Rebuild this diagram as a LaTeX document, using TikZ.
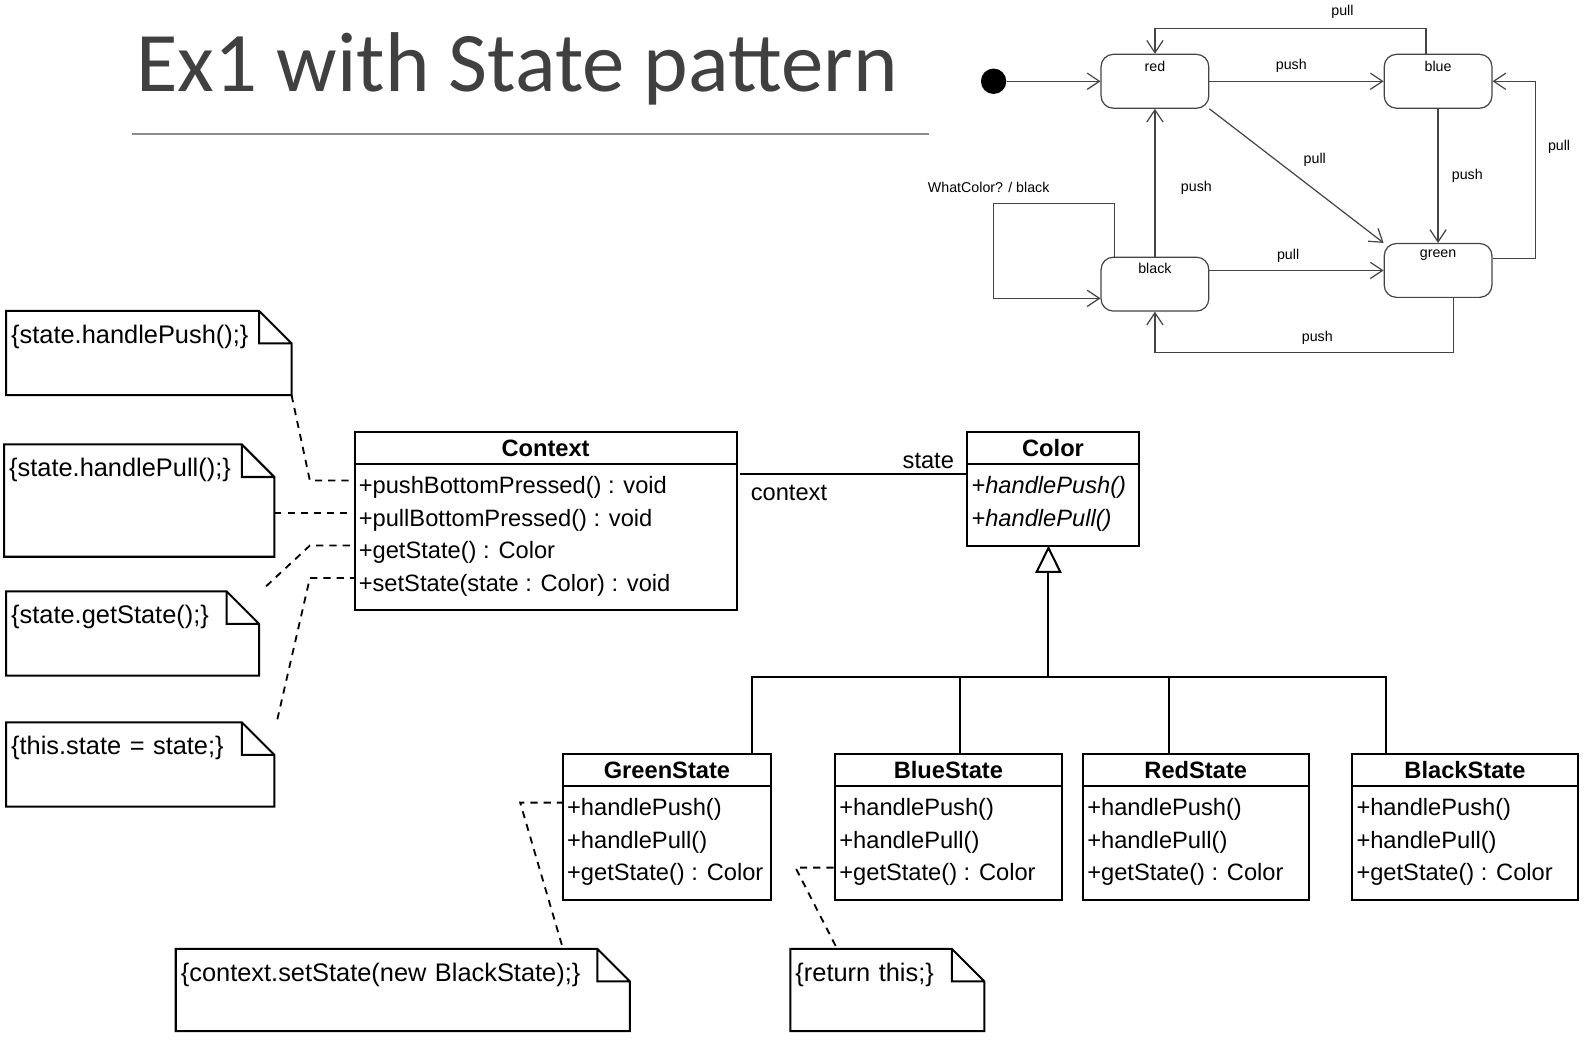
\documentclass[tikz,border=0pt]{standalone}
\usepackage{fontspec}
\setmainfont{Liberation Sans}
\newfontfamily\titlefont{Carlito}
\usetikzlibrary{positioning,arrows.meta}

\definecolor{titlegray}{HTML}{404040}
\definecolor{rulegray}{HTML}{8C8C8C}
\definecolor{stateline}{HTML}{444444}

\newcommand{\umltext}{\fontsize{23.3}{28}\selectfont}
\newcommand{\notetext}{\fontsize{25}{30}\selectfont}
\newcommand{\statetext}{\fontsize{14}{17}\selectfont}

\begin{document}
\begin{tikzpicture}[x=1pt,y=-1pt,
  classbox/.style={draw,line width=2pt,anchor=north west,inner sep=0pt,outer sep=0pt},
  classhead/.style={draw,line width=2pt,minimum height=32pt,inner sep=0pt,outer sep=0pt,anchor=north,font=\umltext\bfseries},
  member/.style={anchor=west,inner xsep=2pt,inner ysep=0pt,text height=26pt,text depth=0pt,font=\umltext},
  note/.style={anchor=north west,outer sep=0pt,inner xsep=5pt,inner ysep=0pt,text height=32pt,align=left,font=\notetext},
  noteframe/.style={draw,line width=2pt,line join=miter},
  noteline/.style={draw,line width=1.8pt,dash pattern=on 7pt off 6pt},
  assoc/.style={draw,line width=2pt},
  isa/.style={draw,line width=2pt,-{Triangle[open,length=27pt,width=26pt]}},
  role/.style={inner sep=0pt,font=\umltext},
  statebox/.style={draw=stateline,line width=1.2pt,rounded corners=12pt,minimum width=106pt,minimum height=53pt,inner sep=0pt},
  statename/.style={inner sep=0pt,font=\statetext},
  startdot/.style={circle,fill=black,minimum size=25pt,inner sep=0pt},
  trans/.style={draw=stateline,line width=1.2pt,-{Straight Barb[length=12pt,width=16pt]}},
  translabel/.style={inner sep=0pt,font=\statetext}]

\useasboundingbox (0,0) rectangle (1568,1043.4);

% title
\node[anchor=base west,inner sep=0pt,font=\titlefont\fontsize{83.5}{92}\selectfont,text=titlegray] (title) at (134,90.5) {Ex1 with State pattern};
\draw[rulegray,line width=2pt] (130,131.5) -- (914,131.5);

% state machine
\node[startdot] (init) at (978,80) {};
\node[statebox] (sred) at (1136.8,80) {};
\node[statebox,right=171.5pt of sred] (sblue) {};
\node[statebox,below=145.5pt of sred] (sblack) {};
\node[statebox,below=132pt of sblue] (sgreen) {};

\node[statename] (redname) at ([yshift=-12pt]sred.north) {red};
\node[statename] (bluename) at ([yshift=-12pt]sblue.north) {blue};
\node[statename] (blackname) at ([yshift=-12pt]sblack.north) {black};
\node[statename] (greenname) at ([yshift=-12pt]sgreen.north) {green};

\draw[trans] (init) -- (sred);
\draw[trans] (sred) -- (sblue) node[translabel,pos=0.47,above=8pt] (l1) {push};
\draw[trans] ([xshift=-12pt]sblue.north) -- ++(0,-25) -| (sred.north) node[translabel,pos=0.154,above=9pt] (l2) {pull};
\draw[trans] (sred.south east) -- (sgreen.north west) node[translabel,midway,xshift=18pt,yshift=16pt] (l3) {pull};
\draw[trans] (sblue.south) -- (sgreen.north) node[translabel,midway,right=13pt] (l4) {push};
\draw[trans] ([yshift=12pt]sgreen.east) -- ++(42,0) |- (sblue.east) node[translabel,pos=0.315,right=12pt] (l5) {pull};
\draw[trans] (sblack.north) -- (sred.south) node[translabel,pos=0.465,right=25pt] (l6) {push};
\draw[trans] (sblack.east |- sgreen.west) -- (sgreen.west) node[translabel,pos=0.452,above=7.5pt] (l7) {pull};
\draw[trans] ([xshift=15pt]sgreen.south) -- ++(0,54) -| (sblack.south) node[translabel,pos=0.228,above=8pt] (l8) {push};
\draw[trans] ([xshift=14pt]sblack.north west) |- ++(-119,-52) node[translabel,pos=1,above=10pt,xshift=-5pt] (l9) {WhatColor? / black}
  |- ([yshift=-14pt]sblack.west);

% Context
\node[classbox,minimum width=376pt,minimum height=175pt] (context) at (349,425) {};
\node[classhead,minimum width=376pt] (ctxhead) at (context.north) {Context};
\node[member] (ctxpush) at ([xshift=2pt,yshift=-16pt]ctxhead.south west) {+pushBottomPressed() : void};
\node[member,below=32pt of ctxpush.west,anchor=west] (ctxpull) {+pullBottomPressed() : void};
\node[member,below=32pt of ctxpull.west,anchor=west] (ctxget) {+getState() : Color};
\node[member,below=32pt of ctxget.west,anchor=west] (ctxset) {+setState(state : Color) : void};

% Color
\node[classbox,minimum width=169pt,minimum height=112pt] (color) at (952,425) {};
\node[classhead,minimum width=169pt] (colhead) at (color.north) {Color};
\node[member,font=\umltext\itshape] (colpush) at ([xshift=2pt,yshift=-16pt]colhead.south west) {+handlePush()};
\node[member,font=\umltext\itshape,below=32pt of colpush.west,anchor=west] (colpull) {+handlePull()};

\draw[assoc] ([xshift=3pt,yshift=-42pt]context.north east) -- ([yshift=-42pt]color.north west)
  node[role,pos=0,anchor=west,xshift=10pt,yshift=-18pt] (ctxrole) {context}
  node[role,pos=1,anchor=east,xshift=-12pt,yshift=13pt] (staterole) {state};

% concrete states
\node[classbox,minimum width=205pt,minimum height=144pt] (greenstate) at (554,742) {};
\node[classhead,minimum width=205pt] (greenhead) at (greenstate.north) {GreenState};
\node[member] (greenpush) at ([xshift=2pt,yshift=-16pt]greenhead.south west) {+handlePush()};
\node[member,below=32pt of greenpush.west,anchor=west] (greenpull) {+handlePull()};
\node[member,below=32pt of greenpull.west,anchor=west] (greenget) {+getState() : Color};

\node[classbox,minimum width=223pt,minimum height=144pt] (bluestate) at (822,742) {};
\node[classhead,minimum width=223pt] (bluehead) at (bluestate.north) {BlueState};
\node[member] (bluepush) at ([xshift=2pt,yshift=-16pt]bluehead.south west) {+handlePush()};
\node[member,below=32pt of bluepush.west,anchor=west] (bluepull) {+handlePull()};
\node[member,below=32pt of bluepull.west,anchor=west] (blueget) {+getState() : Color};

\node[classbox,minimum width=222pt,minimum height=144pt] (redstate) at (1066,742) {};
\node[classhead,minimum width=222pt] (redhead) at (redstate.north) {RedState};
\node[member] (redpush) at ([xshift=2pt,yshift=-16pt]redhead.south west) {+handlePush()};
\node[member,below=32pt of redpush.west,anchor=west] (redpull) {+handlePull()};
\node[member,below=32pt of redpull.west,anchor=west] (redget) {+getState() : Color};

\node[classbox,minimum width=222pt,minimum height=144pt] (blackstate) at (1331,742) {};
\node[classhead,minimum width=222pt] (blackhead) at (blackstate.north) {BlackState};
\node[member] (blackpush) at ([xshift=2pt,yshift=-16pt]blackhead.south west) {+handlePush()};
\node[member,below=32pt of blackpush.west,anchor=west] (blackpull) {+handlePull()};
\node[member,below=32pt of blackpull.west,anchor=west] (blackget) {+getState() : Color};

\coordinate (bus) at (1032,666);
\draw[assoc] ([xshift=186pt]greenstate.north west) |- (bus);
\draw[assoc] ([xshift=123pt]bluestate.north west) |- (bus);
\draw[assoc] ([xshift=85pt]redstate.north west) |- (bus);
\draw[assoc] ([xshift=33pt]blackstate.north west) |- (bus);
\draw[isa] (bus) -- (bus |- color.south);

% notes
\node[note,text width=271pt,text depth=51pt] (pushnote) at (6,306) {\{state.handlePush();\}};
\node[note,text width=256pt,text depth=78.5pt] (pullnote) at (4,437.5) {\{state.handlePull();\}};
\node[note,text width=239pt,text depth=51pt] (getnote) at (6,582) {\{state.getState();\}};
\node[note,text width=254pt,text depth=51pt] (setnote) at (6,711) {\{this.state = state;\}};
\node[note,text width=437pt,text depth=49pt] (blacknote) at (173,934) {\{context.setState(new BlackState);\}};
\node[note,text width=181pt,text depth=49pt] (thisnote) at (778,934) {\{return this;\}};

\foreach \n in {pushnote,pullnote,getnote,setnote,blacknote,thisnote}
  \draw[noteframe] (\n.north west) -- ([xshift=-32pt]\n.north east) -- ([yshift=-32pt]\n.north east)
    -- (\n.south east) -- (\n.south west) -- cycle
    ([xshift=-32pt]\n.north east) |- ([yshift=-32pt]\n.north east);

\coordinate (pushend) at (context.west |- ctxpush.west);
\coordinate (pullend) at (context.west |- ctxpull.west);
\coordinate (getend) at (context.west |- ctxget.west);
\coordinate (setend) at (context.west |- ctxset.west);
\coordinate (gpushend) at (greenstate.west |- greenpush.west);
\coordinate (bgetend) at (bluestate.west |- blueget.west);

\draw[noteline] (pushnote.south east) -- ([xshift=-44pt]pushend) -- (pushend);
\draw[noteline] (pullnote.east |- pullend) -- (pullend);
\draw[noteline] ([xshift=7pt,yshift=5pt]getnote.north east) -- ([xshift=-44pt]getend) -- (getend);
\draw[noteline] ([xshift=3pt,yshift=3pt]setnote.north east) -- ([xshift=-44pt]setend) -- (setend);
\draw[noteline] ([xshift=380pt,yshift=4pt]blacknote.north west) -- ([xshift=-42pt]gpushend) -- (gpushend);
\draw[noteline] ([xshift=44.5pt,yshift=3pt]thisnote.north west) -- ([xshift=-39pt]bgetend) -- (bgetend);

\end{tikzpicture}
\end{document}
